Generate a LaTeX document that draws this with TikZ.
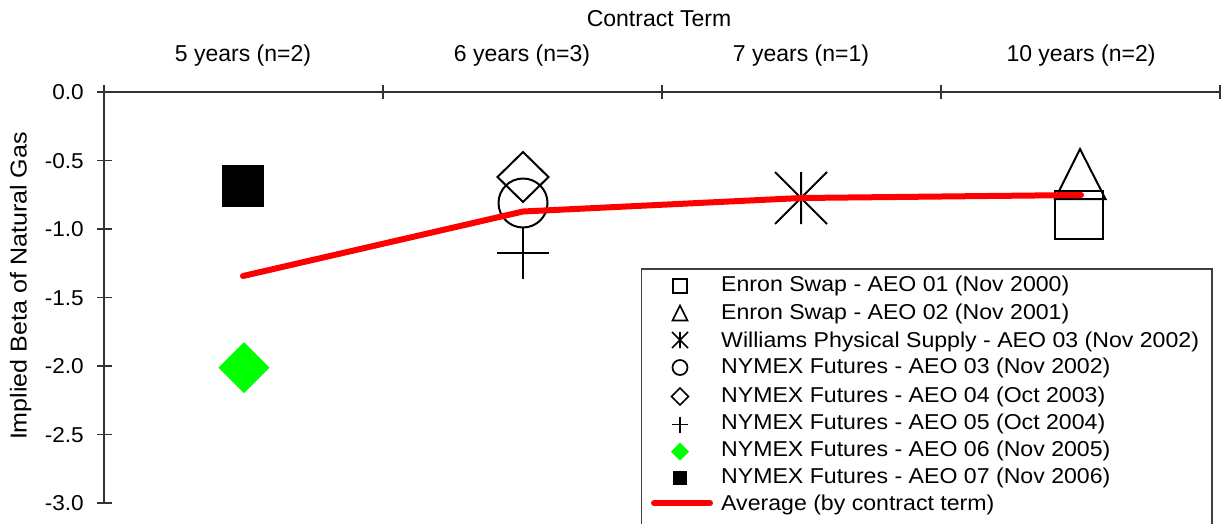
\documentclass[tikz,border=0pt]{standalone}
\usepackage{fontspec}
\setmainfont{Liberation Sans}
\usepackage{graphicx}
\newcommand{\lgx}[1]{\scalebox{1.075}[1]{#1}}
\begin{document}
\begin{tikzpicture}[x=1pt,y=-1pt,
  axis/.style={line width=1.3pt, draw=black!80},
  mk/.style={line width=2pt, draw=black},
  lmk/.style={line width=1.7pt, draw=black},
  avg/.style={line width=6pt, draw=red, line cap=round, line join=round},
  lbl/.style={font=\fontsize{23}{27}\selectfont, inner sep=0pt, anchor=base},
  ticklbl/.style={font=\fontsize{21.5}{25}\selectfont, inner sep=0pt, anchor=base east},
  leg/.style={font=\fontsize{21.5}{26}\selectfont, inner sep=0pt, anchor=base west},
  legbox/.style={line width=1.3pt, draw=black!75},
]
\clip (0,0) rectangle (1225,523);
\fill[white] (0,0) rectangle (1225,523);

% axes
\draw[axis] (104,92) -- (1220,92);
\draw[axis] (104,85) -- (104,503);
\foreach \x in {383,662,941,1220} \draw[axis] (\x,85) -- (\x,99);
\foreach \i in {0,...,6} \draw[axis] (97,{92+68.5*\i}) -- (112,{92+68.5*\i});

% tick labels
\node[ticklbl] (t0) at (84,99.5) {\scalebox{1.05}[1]{0.0}};
\node[ticklbl] (t1) at (84,168) {\scalebox{1.05}[1]{-0.5}};
\node[ticklbl] (t2) at (84,236.5) {\scalebox{1.05}[1]{-1.0}};
\node[ticklbl] (t3) at (84,305) {\scalebox{1.05}[1]{-1.5}};
\node[ticklbl] (t4) at (84,373.5) {\scalebox{1.05}[1]{-2.0}};
\node[ticklbl] (t5) at (84,442) {\scalebox{1.05}[1]{-2.5}};
\node[ticklbl] (t6) at (84,510.5) {\scalebox{1.05}[1]{-3.0}};

% titles
\node[lbl] (title) at (659,26) {Contract Term};
\node[lbl] (c5) at (243,61.5) {5 years (n=2)};
\node[lbl] (c6) at (522,61.5) {6 years (n=3)};
\node[lbl] (c7) at (801,61.5) {7 years (n=1)};
\node[lbl] (c10) at (1081,61.5) {10 years (n=2)};
\node[lbl, rotate=90] (ylab) at (26.7,286) {\scalebox{1.09}[1]{Implied Beta of Natural Gas}};

% data markers
% 5 years
\fill[black] (222,165) rectangle (264,207);
\fill[green] (244,342.2) -- (269.5,367.7) -- (244,393.2) -- (218.5,367.7) -- cycle;
% 6 years
\draw[mk] (523,152) -- (548.5,177) -- (523,202) -- (497.5,177) -- cycle;
\draw[mk] (523,203) circle (24.5);
\draw[mk] (497,253) -- (549,253) (523,228) -- (523,279);
% 7 years
\draw[mk] (801,172) -- (801,224) (775,172) -- (827,224) (775,224) -- (827,172);
% 10 years
\draw[mk] (1055,191) rectangle (1103,239);
\draw[mk] (1055,199) -- (1080,149) -- (1105.5,199) -- cycle;

% average line
\coordinate (a5) at (243,276);
\coordinate (a6) at (523,211.5);
\coordinate (a7) at (801,198);
\coordinate (a10) at (1081,195);
\draw[avg] (a5) -- (a6) -- (a7) -- (a10);

% legend
\draw[legbox] (641.5,269) rectangle (1212,540);
\draw[lmk] (673,279) rectangle (687,293);
\draw[lmk] (672.5,320.5) -- (680,305.5) -- (687.5,320.5) -- cycle;
\draw[lmk] (680,332) -- (680,348) (672,332) -- (688,348) (672,348) -- (688,332);
\draw[lmk] (680,367.5) circle (7.5);
\draw[lmk] (680,388) -- (688.5,396.5) -- (680,405) -- (671.5,396.5) -- cycle;
\draw[lmk] (672,424.5) -- (688,424.5) (680,416.5) -- (680,432.5);
\fill[green] (680,442.5) -- (689,451.5) -- (680,460.5) -- (671,451.5) -- cycle;
\fill[black] (673,470.5) rectangle (687,485);
\coordinate (la) at (654,503.3);
\coordinate (lb) at (710,503.3);
\draw[avg] (la) -- (lb);

\node[leg] (l1) at (721,291.7) {\lgx{Enron Swap - AEO 01 (Nov 2000)}};
\node[leg] (l2) at (721,319) {\lgx{Enron Swap - AEO 02 (Nov 2001)}};
\node[leg] (l3) at (721,347) {\lgx{Williams Physical Supply - AEO 03 (Nov 2002)}};
\node[leg] (l4) at (721,373) {\lgx{NYMEX Futures - AEO 03 (Nov 2002)}};
\node[leg] (l5) at (721,402.5) {\lgx{NYMEX Futures - AEO 04 (Oct 2003)}};
\node[leg] (l6) at (721,429.5) {\lgx{NYMEX Futures - AEO 05 (Oct 2004)}};
\node[leg] (l7) at (721,456.7) {\lgx{NYMEX Futures - AEO 06 (Nov 2005)}};
\node[leg] (l8) at (721,483.3) {\lgx{NYMEX Futures - AEO 07 (Nov 2006)}};
\node[leg] (l9) at (721,510) {\lgx{Average (by contract term)}};
\end{tikzpicture}
\end{document}
